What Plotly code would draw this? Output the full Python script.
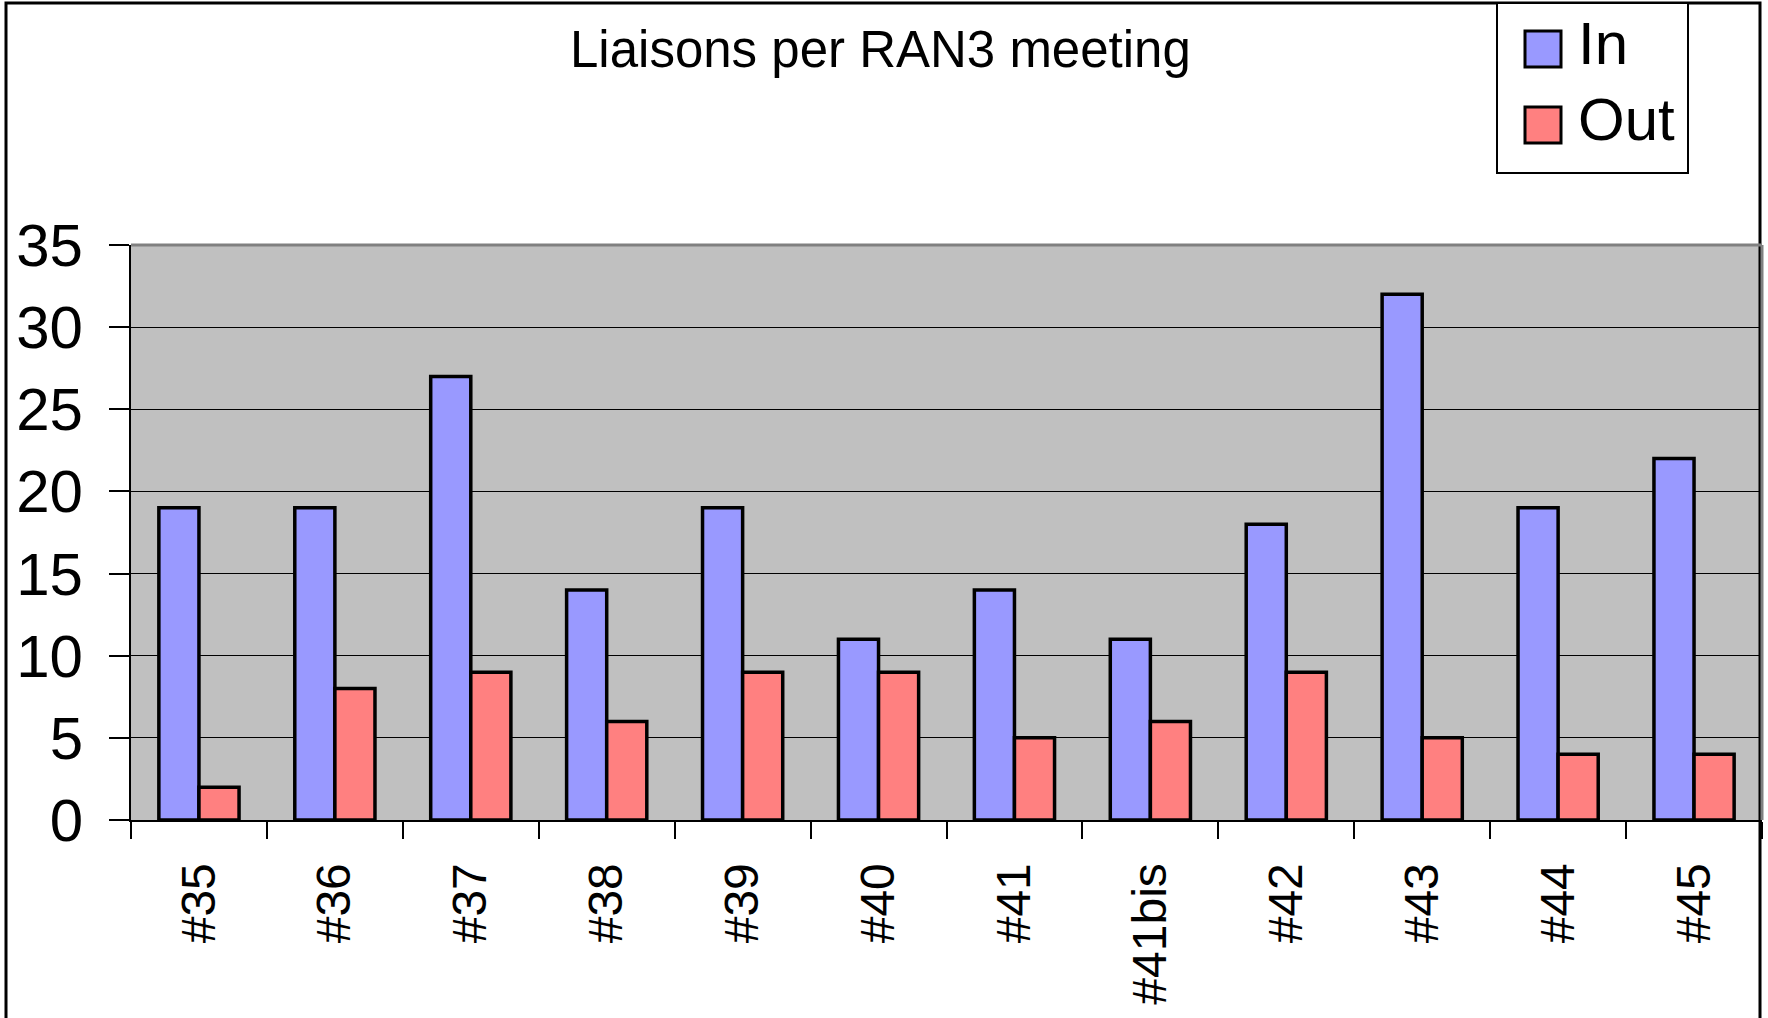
import plotly.graph_objects as go

meetings = ["#35", "#36", "#37", "#38", "#39", "#40", "#41", "#41bis", "#42", "#43", "#44", "#45"]
liaisons_in = [19, 19, 27, 14, 19, 11, 14, 11, 18, 32, 19, 22]
liaisons_out = [2, 8, 9, 6, 9, 9, 5, 6, 9, 5, 4, 4]
series_names = ["In", "Out"]
series_colors = ["#9999FF", "#FF8080"]
y_ticks = [0, 5, 10, 15, 20, 25, 30, 35]
title_text = "Liaisons per RAN3 meeting"

FONT = "Liberation Sans, Arial, sans-serif"

W, H = 1768, 1018
L, R, T, B = 131, 6, 245, 198
pw = W - L - R
ph = H - T - B


def px_x(x):
    return (x - L) / pw


def px_y(y):
    return (H - B - y) / ph


fig = go.Figure()
for name, vals, col in zip(series_names, [liaisons_in, liaisons_out], series_colors):
    fig.add_trace(go.Bar(
        x=meetings, y=vals, name=name,
        marker=dict(color=col, line=dict(color="black", width=3.5)),
        showlegend=False,
    ))

shapes = []
# outer chart border
shapes.append(dict(type="rect", xref="paper", yref="paper",
                   x0=px_x(6), x1=px_x(1760), y0=px_y(1040), y1=px_y(3),
                   line=dict(color="black", width=3), fillcolor="rgba(0,0,0,0)", layer="above"))
# plot area top and right edge (gray)
shapes.append(dict(type="line", xref="paper", yref="paper",
                   x0=0, x1=1, y0=1, y1=1, line=dict(color="#808080", width=3)))
shapes.append(dict(type="line", xref="paper", yref="paper",
                   x0=1, x1=1, y0=0, y1=1, line=dict(color="#808080", width=3)))
# legend box
shapes.append(dict(type="rect", xref="paper", yref="paper",
                   x0=px_x(1497), x1=px_x(1688), y0=px_y(173), y1=px_y(3),
                   line=dict(color="black", width=2), fillcolor="white"))
annotations = []
for i, (name, col) in enumerate(zip(series_names, series_colors)):
    cy = 49 + i * 76
    shapes.append(dict(type="rect", xref="paper", yref="paper",
                       x0=px_x(1525), x1=px_x(1561), y0=px_y(cy + 18), y1=px_y(cy - 18),
                       line=dict(color="black", width=3), fillcolor=col))
    annotations.append(dict(xref="paper", yref="paper", x=px_x(1576), y=px_y(cy - 6),
                            text=name, showarrow=False, xanchor="left", yanchor="middle",
                            font=dict(family=FONT, size=60, color="black")))

annotations.append(dict(xref="paper", yref="paper", x=px_x(880), y=px_y(50),
                        text=title_text, showarrow=False, xanchor="center", yanchor="middle",
                        font=dict(family=FONT, size=51, color="black")))

fig.update_layout(
    width=W, height=H,
    margin=dict(l=L, r=R, t=T, b=B, pad=0),
    paper_bgcolor="white", plot_bgcolor="#C0C0C0",
    barmode="group", bargap=0.41, bargroupgap=0,
    shapes=shapes, annotations=annotations,
    showlegend=False,
    font=dict(family=FONT, color="black"),
)
fig.update_xaxes(
    type="category", tickson="boundaries", ticks="outside", ticklen=17, tickwidth=2,
    tickcolor="black", showline=True, linecolor="black", linewidth=2, showgrid=False,
    tickangle=-90, tickfont=dict(family=FONT, size=48, color="black"),
    ticklabelstandoff=22,
)
fig.update_yaxes(
    range=[0, 35], tickvals=y_ticks, ticks="outside", ticklen=20, tickwidth=2,
    tickcolor="black", showline=True, linecolor="black", linewidth=2,
    showgrid=True, gridcolor="black", gridwidth=1, zeroline=False,
    tickfont=dict(family=FONT, size=60, color="black"), ticklabelstandoff=14,
)

fig.write_html(
    "out.html",
    config={"displayModeBar": False, "staticPlot": True},
    post_script="document.body.style.margin='0';document.body.style.overflow='hidden';",
)
